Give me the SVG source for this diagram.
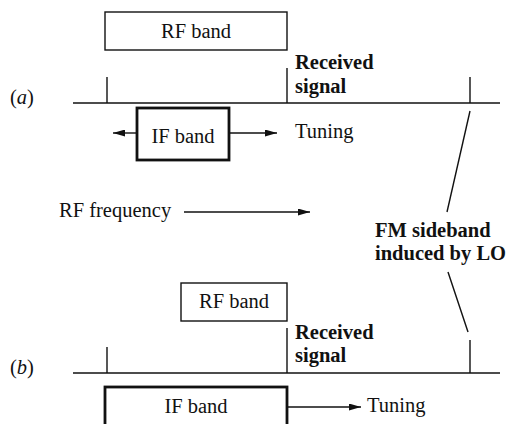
<svg xmlns="http://www.w3.org/2000/svg" width="512" height="424" viewBox="0 0 512 424">
<defs>
<style>
text{font-family:"Liberation Serif","Times New Roman",serif;font-size:20.5px;fill:#111}
.b{font-weight:bold}
.c{text-anchor:middle}
.thin{fill:none;stroke:#111;stroke-width:1.4}
.thick{fill:none;stroke:#111;stroke-width:2.8}
</style>
<marker id="ah" viewBox="0 0 12 7" refX="12" refY="3.5" markerWidth="12" markerHeight="7" markerUnits="userSpaceOnUse" orient="auto">
<path d="M0,0 L12,3.5 L0,7 Z" fill="#111"/>
</marker>
</defs>
<rect width="512" height="424" fill="#fff"/>
<g id="panel-a">
<g id="rf-band-a"><rect class="thin" x="105" y="12" width="182" height="38"/><text class="c" x="196" y="37.5">RF band</text></g>
<g id="axis-a"><line class="thin" x1="73" y1="103" x2="500" y2="103"/>
<line class="thin" x1="107" y1="77" x2="107" y2="103"/>
<line class="thin" x1="287" y1="68" x2="287" y2="103"/>
<line class="thin" x1="470" y1="77" x2="470" y2="103"/></g>
<g id="received-a"><text class="b" x="295" y="69">Received</text><text class="b" x="295" y="93">signal</text></g>
<text x="10" y="104">(<tspan font-style="italic">a</tspan>)</text>
<g id="if-band-a"><rect class="thick" x="137" y="108" width="92" height="52"/><text class="c" x="183" y="143">IF band</text></g>
<text x="295" y="138">Tuning</text>
</g>
<g id="middle">
<text x="59" y="216.5">RF frequency</text>
<g id="fm-label"><text class="b" x="375" y="236.5">FM sideband</text><text class="b" x="375" y="259.5">induced by LO</text></g>
</g>
<g id="panel-b">
<g id="rf-band-b"><rect class="thin" x="181" y="283" width="106" height="38"/><text class="c" x="234" y="308">RF band</text></g>
<g id="axis-b"><line class="thin" x1="73" y1="373" x2="500" y2="373"/>
<line class="thin" x1="107" y1="347" x2="107" y2="373"/>
<line class="thin" x1="287" y1="328" x2="287" y2="373"/>
<line class="thin" x1="470" y1="340" x2="470" y2="373"/></g>
<g id="received-b"><text class="b" x="295" y="338.5">Received</text><text class="b" x="295" y="362">signal</text></g>
<text x="10" y="374">(<tspan font-style="italic">b</tspan>)</text>
<g id="if-band-b"><rect class="thick" x="105" y="387" width="182" height="50"/><text class="c" x="196" y="413">IF band</text></g>
<text x="367" y="412">Tuning</text>
</g>
<g id="connectors">
<line class="thin" x1="137" y1="133" x2="113" y2="133" marker-end="url(#ah)"/>
<line class="thin" x1="229" y1="133" x2="277" y2="133" marker-end="url(#ah)"/>
<line class="thin" x1="184" y1="212" x2="310" y2="212" marker-end="url(#ah)"/>
<line class="thin" x1="287" y1="407" x2="361" y2="407" marker-end="url(#ah)"/>
<line class="thin" x1="470" y1="111" x2="447" y2="212"/>
<line class="thin" x1="448" y1="272" x2="468" y2="332"/>
</g>
</svg>
